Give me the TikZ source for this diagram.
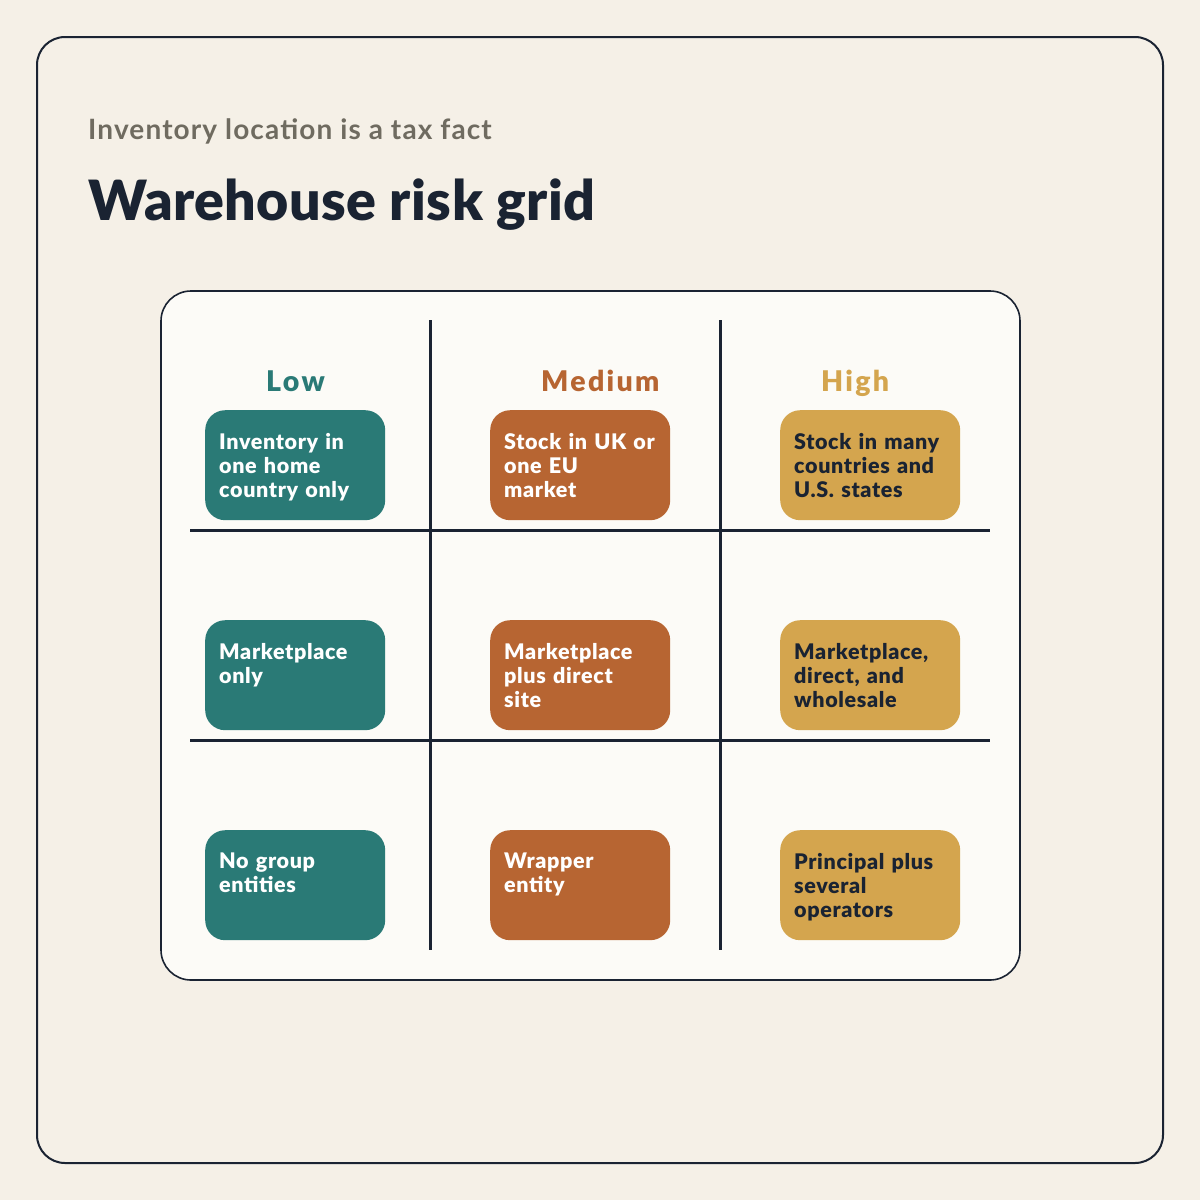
\documentclass[tikz,border=0pt]{standalone}
\usepackage{fontspec}
\setmainfont{Lato}
\newfontfamily\subfont{Lato Bold}[LetterSpace=4]
\newfontfamily\titlefont{Lato Black}[LetterSpace=0.8]
\newfontfamily\hdrfont{Lato Black}[LetterSpace=8]
\newfontfamily\boxfont{Lato Black}[LetterSpace=3]
\definecolor{bgc}{HTML}{F5F0E7}
\definecolor{panelc}{HTML}{FCFBF7}
\definecolor{inkc}{HTML}{1A2332}
\definecolor{tealc}{HTML}{2A7A76}
\definecolor{orangec}{HTML}{B76532}
\definecolor{goldc}{HTML}{D4A54E}
\definecolor{grayc}{HTML}{6F6B60}
\tikzset{
  x=1pt,y=-1pt,
  riskbox/.style={draw=none, rounded corners=20pt, minimum width=180pt, minimum height=110pt, inner sep=0pt, anchor=north west},
  boxtext/.style={anchor=north west, inner sep=0pt, align=left, text width=175pt, font=\boxfont\fontsize{21.5}{24}\selectfont},
  header/.style={anchor=base west, inner sep=0pt, font=\hdrfont\fontsize{28.5}{30}\selectfont},
  gridline/.style={draw=inkc, line width=3pt},
}
\begin{document}
\begin{tikzpicture}
\useasboundingbox (0,0) rectangle (1200,1200);
\fill[bgc] (0,0) rectangle (1200,1200);
\draw[inkc, line width=2pt, fill=bgc, rounded corners=28pt] (37,37) rectangle (1163,1163);
\node[anchor=base west, inner sep=0pt, text=grayc, font=\subfont\fontsize{28}{30}\selectfont] (sub) at (88,139) {Inventory location is a tax fact};
\node[anchor=base west, inner sep=0pt, text=inkc, font=\titlefont\fontsize{55.5}{60}\selectfont] (title) at (88,220) {Warehouse risk grid};
\draw[inkc, line width=1.6pt, fill=panelc, rounded corners=30pt] (161,291) rectangle (1020,980);
% grid
\coordinate (v1t) at (430,320); \coordinate (v1b) at (430,950);
\coordinate (v2t) at (720,320); \coordinate (v2b) at (720,950);
\coordinate (h1l) at (190,530); \coordinate (h1r) at (990,530);
\coordinate (h2l) at (190,740); \coordinate (h2r) at (990,740);
\draw[gridline] (v1t) -- (v1b);
\draw[gridline] (v2t) -- (v2b);
\draw[gridline] (h1l) -- (h1r);
\draw[gridline] (h2l) -- (h2r);
% headers
\node[header, text=tealc] (hlow) at (266,391) {Low};
\node[header, text=orangec] (hmed) at (541,391) {Medium};
\node[header, text=goldc] (hhigh) at (821,391) {High};
% boxes
\node[riskbox, fill=tealc] (b11) at (205,410) {};
\node[riskbox, fill=orangec] (b12) at (490,410) {};
\node[riskbox, fill=goldc] (b13) at (780,410) {};
\node[riskbox, fill=tealc] (b21) at (205,620) {};
\node[riskbox, fill=orangec] (b22) at (490,620) {};
\node[riskbox, fill=goldc] (b23) at (780,620) {};
\node[riskbox, fill=tealc] (b31) at (205,830) {};
\node[riskbox, fill=orangec] (b32) at (490,830) {};
\node[riskbox, fill=goldc] (b33) at (780,830) {};
% texts
\node[boxtext, text=white] (t11) at (219,433) {Inventory in\\one home\\country only};
\node[boxtext, text=white] (t12) at (504,433) {Stock in UK or\\one EU\\market};
\node[boxtext, text=inkc] (t13) at (794,433) {Stock in many\\countries and\\U.S. states};
\node[boxtext, text=white] (t21) at (219,643) {Marketplace\\only};
\node[boxtext, text=white] (t22) at (504,643) {Marketplace\\plus direct\\site};
\node[boxtext, text=inkc] (t23) at (794,643) {Marketplace,\\direct, and\\wholesale};
\node[boxtext, text=white] (t31) at (219,853) {No group\\entities};
\node[boxtext, text=white] (t32) at (504,853) {Wrapper\\entity};
\node[boxtext, text=inkc] (t33) at (794,853) {Principal plus\\several\\operators};
\end{tikzpicture}
\end{document}
